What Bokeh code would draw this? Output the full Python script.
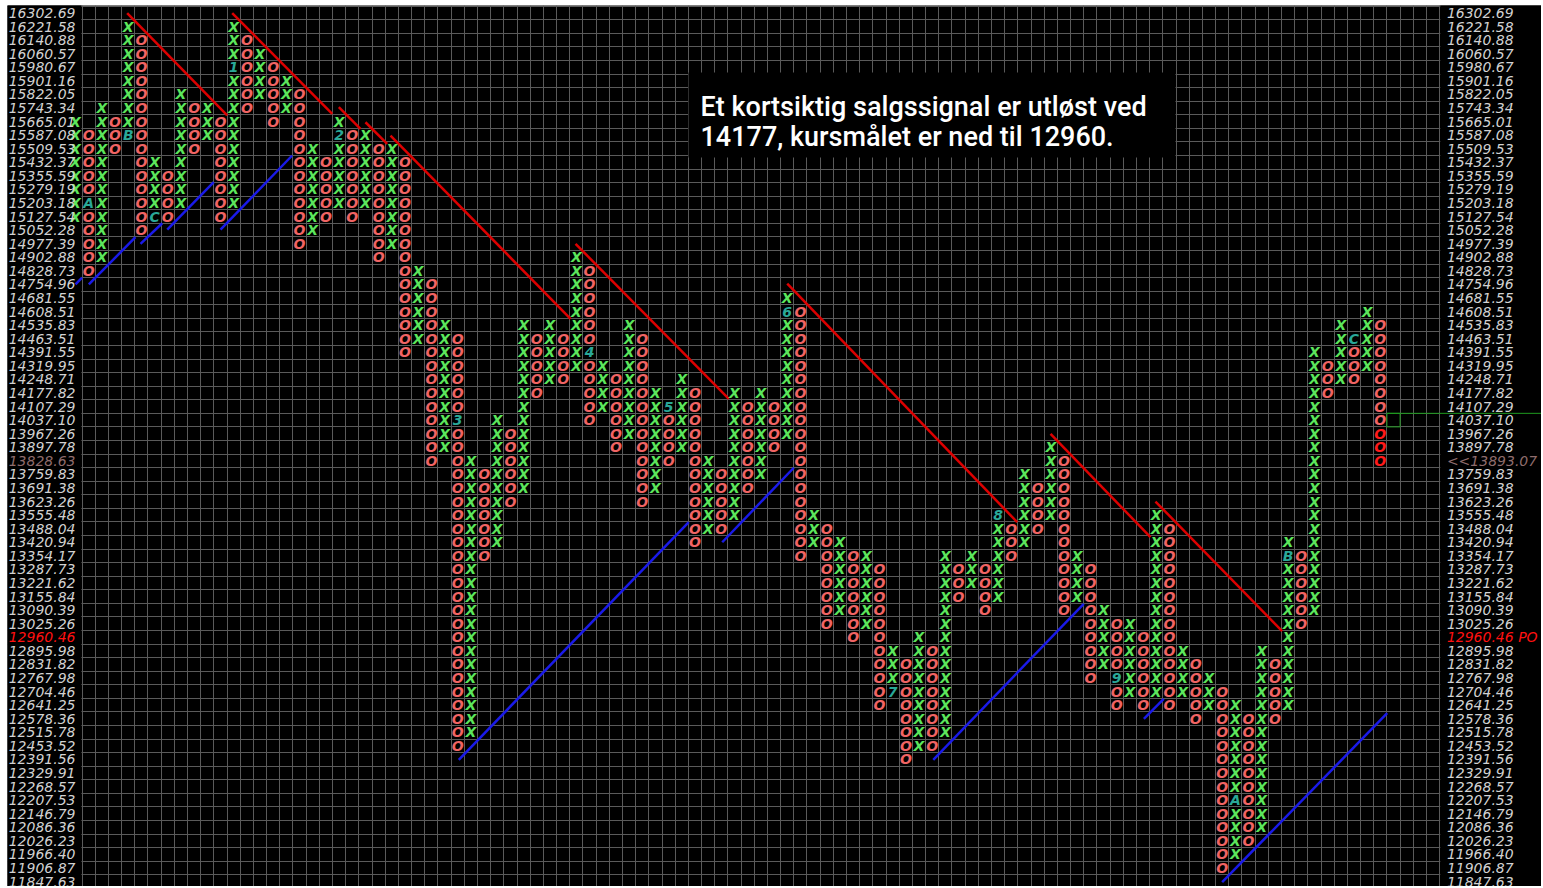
from bokeh.plotting import figure
from bokeh.models import Range1d, FixedTicker, Grid, ColumnDataSource, Label
from bokeh.core.properties import value
from bokeh.embed import file_html
from bokeh.resources import INLINE

# ---------------- data ----------------
# price level of every box row, bottom (row 0) to top (row 64)
price_labels = [
    "11847.63", "11906.87", "11966.40", "12026.23", "12086.36", "12146.79", "12207.53",
    "12268.57", "12329.91", "12391.56", "12453.52", "12515.78", "12578.36", "12641.25",
    "12704.46", "12767.98", "12831.82", "12895.98", "12960.46", "13025.26", "13090.39",
    "13155.84", "13221.62", "13287.73", "13354.17", "13420.94", "13488.04", "13555.48",
    "13623.26", "13691.38", "13759.83", "13828.63", "13897.78", "13967.26", "14037.10",
    "14107.29", "14177.82", "14248.71", "14319.95", "14391.55", "14463.51", "14535.83",
    "14608.51", "14681.55", "14754.96", "14828.73", "14902.88", "14977.39", "15052.28",
    "15127.54", "15203.18", "15279.19", "15355.59", "15432.37", "15509.53", "15587.08",
    "15665.01", "15743.34", "15822.05", "15901.16", "15980.67", "16060.57", "16140.88",
    "16221.58", "16302.69",
]
objective_row = 18          # price objective 12960.46 ("PO")
last_price_row = 31
last_price_text = "<<13893.07"

# point & figure columns (row index of lowest and highest box)
col_type = ["X", "O"] * 50
col_low = [49, 45, 46, 54, 55, 48, 49, 49, 50, 54,
           55, 49, 50, 57, 58, 56, 57, 47, 48, 49,
           50, 49, 50, 46, 47, 39, 40, 31, 32, 10,
           11, 24, 25, 28, 29, 36, 37, 37, 38, 34,
           35, 32, 33, 28, 29, 31, 32, 25, 26, 26,
           27, 29, 30, 32, 33, 24, 25, 19, 20, 18,
           19, 13, 14, 9, 10, 10, 11, 21, 22, 20,
           21, 24, 25, 26, 27, 20, 21, 15, 16, 13,
           14, 13, 14, 13, 14, 12, 13, 1, 2, 3,
           4, 12, 13, 19, 20, 36, 37, 37, 38, 31]
col_high = [56, 55, 57, 56, 63, 62, 53, 52, 58, 57,
            57, 56, 63, 62, 61, 60, 59, 58, 54, 53,
            56, 55, 55, 54, 54, 53, 45, 44, 41, 40,
            31, 30, 34, 33, 41, 40, 41, 40, 46, 45,
            38, 37, 41, 40, 36, 35, 37, 36, 31, 30,
            36, 35, 36, 35, 43, 42, 27, 26, 25, 24,
            24, 23, 17, 16, 18, 17, 24, 23, 24, 23,
            27, 26, 30, 29, 32, 31, 24, 23, 20, 19,
            19, 18, 27, 26, 17, 16, 15, 14, 13, 12,
            17, 16, 25, 24, 39, 38, 41, 40, 42, 41]
recent_boxes = 3            # newest boxes of last column (bright red)

# month markers replacing a box
month_col = [1, 4, 6, 12, 20, 29, 39, 45, 54, 62, 70, 79, 88, 92, 97]
month_row = [50, 55, 49, 60, 55, 34, 39, 35, 42, 14, 27, 15, 6, 24, 40]
month_txt = ["A", "B", "C", "1", "2", "3", "4", "5", "6", "7", "8", "9", "A", "B", "C"]

# trend lines (column, row units)
red_x0 = [3.92, 11.89, 19.98, 22.0, 23.9, 37.94, 54.0, 73.98, 81.94]
red_y0 = [64.0, 64.0, 57.06, 55.95, 54.97, 46.99, 44.05, 32.99, 28.0]
red_x1 = [11.51, 19.48, 21.62, 23.65, 37.56, 49.57, 71.45, 81.56, 91.55]
red_y1 = [56.45, 56.57, 55.47, 54.36, 41.47, 35.57, 26.48, 25.37, 18.45]

blue_x0 = [0.0, 1.01, 4.93, 6.96, 11.0, 29.08, 49.07, 65.08, 81.06, 87.0]
blue_y0 = [44.0, 44.0, 46.99, 48.03, 48.03, 8.97, 25.0, 8.97, 11.99, -0.05]
blue_x1 = [0.5, 4.55, 6.58, 10.49, 16.44, 46.53, 54.5, 76.5, 82.57, 99.52]
blue_y1 = [44.5, 47.48, 48.51, 51.53, 53.5, 26.48, 30.49, 20.46, 13.46, 12.4]

current_col = 100
current_row = 34

note_lines = ["Et kortsiktig salgssignal er utløst ved",
              "14177, kursmålet er ned til 12960."]

# ---------------- styles ----------------
X_COL = "#5ce65c"
O_COL = "#f06464"
CUR_COL = "#ff1a1a"
MARK_COL = "#2aa898"
LAB_COL = "#d2d2d2"
DIM_COL = "#8f6c6c"
PO_COL = "#ff1010"
GRID_COL = "#5a5a5a"

W, H = 1541, 886
LEFT, TOP = 7, 5
COLPX, ROWPX = 13.18, 13.57
COL0_PX, ROW0_PX = 75.0, 881.0
xr = Range1d((LEFT - COL0_PX) / COLPX, (W - COL0_PX) / COLPX)
yr = Range1d((ROW0_PX - H) / ROWPX, (ROW0_PX - TOP) / ROWPX)

p = figure(width=W, height=H, x_range=xr, y_range=yr,
           x_axis_type=None, y_axis_type=None,
           toolbar_location=None, output_backend="svg",
           min_border=0, min_border_left=LEFT, min_border_top=TOP,
           background_fill_color="black",
           border_fill_color="white", outline_line_color=None)

ncols = len(col_type)
grid_right = ncols + 3.5
p.add_layout(Grid(dimension=0, ticker=FixedTicker(ticks=[k + 0.5 for k in range(0, ncols + 4)]),
                  grid_line_color=GRID_COL, grid_line_width=1))
p.add_layout(Grid(dimension=1, ticker=FixedTicker(ticks=[r + 0.5 for r in range(-1, len(price_labels))]),
                  grid_line_color=GRID_COL, grid_line_width=1))

# label areas without grid
p.quad(left=[xr.start - 1, grid_right + 0.05], right=[0.45, xr.end + 1],
       bottom=[-5, -5], top=[70, 70], fill_color="black", line_color=None)

# trend lines
p.segment(x0=red_x0, y0=red_y0, x1=red_x1, y1=red_y1, line_color="#dd0000", line_width=2.5)
p.segment(x0=blue_x0, y0=blue_y0, x1=blue_x1, y1=blue_y1, line_color="#1a1ae8", line_width=2.5)

# boxes
marker_at = {(c, r): t for c, r, t in zip(month_col, month_row, month_txt)}
xx, xy, ox, oy, oc = [], [], [], [], []
last = ncols - 1
for c, (t, lo, hi) in enumerate(zip(col_type, col_low, col_high)):
    for r in range(lo, hi + 1):
        if (c, r) in marker_at:
            continue
        if t == "X":
            xx.append(c); xy.append(r)
        else:
            ox.append(c); oy.append(r)
            oc.append(CUR_COL if (c == last and r < lo + recent_boxes) else O_COL)

box_font = dict(text_font=value("DejaVu Sans"), text_font_size="14px",
                text_font_style="bold italic", text_align="center", text_baseline="middle")
p.text(x="x", y="y", text="t",
       source=ColumnDataSource(dict(x=xx, y=xy, t=["X"] * len(xx))),
       text_color=X_COL, **box_font)
p.text(x="x", y="y", text="t",
       source=ColumnDataSource(dict(x=ox, y=oy, t=["O"] * len(ox), c=oc)),
       text_color="c", **box_font)
p.text(x=month_col, y=month_row, text=month_txt, text_color=MARK_COL, **box_font)

# current price marker
p.segment(x0=[current_col - 0.5], y0=[current_row + 0.5], x1=[xr.end + 1], y1=[current_row + 0.5],
          line_color="#1f9a1f", line_width=1)
p.rect(x=[current_col], y=[current_row], width=1, height=1, fill_color=None,
       line_color="#1f9a1f", line_width=1)

# price scales
rows = list(range(len(price_labels)))
left_cols = [DIM_COL if r == last_price_row else (PO_COL if r == objective_row else LAB_COL) for r in rows]
right_txt = [last_price_text if r == last_price_row else
             (price_labels[r] + " PO" if r == objective_row else price_labels[r]) for r in rows]
lab_font = dict(text_font=value("DejaVu Sans"), text_font_size="14px",
                text_font_style="italic", text_baseline="middle")
p.text(x=[0.0] * len(rows), y=rows, text=price_labels, text_color=left_cols,
       text_align="right", **lab_font)
p.text(x=[grid_right + 0.55] * len(rows), y=rows, text=right_txt, text_color=left_cols,
       text_align="left", **lab_font)

# note box
p.quad(left=[46.51], right=[83.46], bottom=[53.35], top=[59.62], fill_color="black", line_color=None)
for txt, yy in zip(note_lines, [57.11, 54.83]):
    p.add_layout(Label(x=47.42, y=yy, text=txt, text_color="white", text_font="Roboto Medium",
                       text_font_size="27px", text_baseline="alphabetic", text_align="left"))

open("out.html", "w").write(file_html(p, INLINE))
